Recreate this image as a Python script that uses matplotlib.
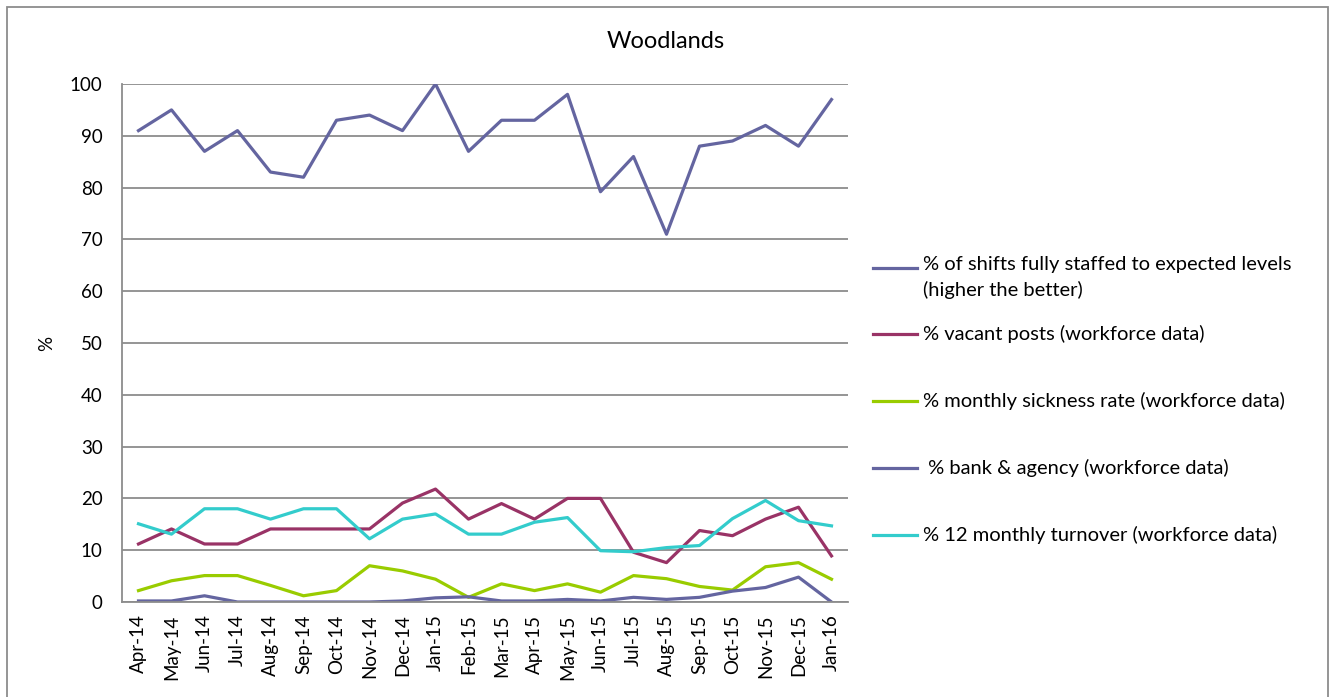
import numpy as np
import matplotlib
matplotlib.use("Agg")
import matplotlib.pyplot as plt
from matplotlib.lines import Line2D
from matplotlib.patches import Rectangle

plt.rcParams['font.family'] = ['Lato', 'DejaVu Sans']

months = ['Apr-14', 'May-14', 'Jun-14', 'Jul-14', 'Aug-14', 'Sep-14', 'Oct-14',
          'Nov-14', 'Dec-14', 'Jan-15', 'Feb-15', 'Mar-15', 'Apr-15', 'May-15',
          'Jun-15', 'Jul-15', 'Aug-15', 'Sep-15', 'Oct-15', 'Nov-15', 'Dec-15', 'Jan-16']

staffed = [91, 95, 87, 91, 83, 82, 93, 94, 91, 100, 87, 93, 93, 98, 79.2, 86, 71, 88, 89, 92, 88, 97]
vacant = [11.2, 14.1, 11.2, 11.2, 14.1, 14.1, 14.1, 14.1, 19.1, 21.8, 16, 19, 16, 20, 20, 9.6, 7.6, 13.8, 12.8, 16, 18.3, 8.9]
sickness = [2.2, 4.1, 5.1, 5.1, 3.2, 1.2, 2.2, 7.0, 6.0, 4.4, 0.9, 3.5, 2.2, 3.5, 1.9, 5.1, 4.5, 3.0, 2.3, 6.8, 7.6, 4.4]
bank = [0.2, 0.2, 1.2, 0, 0, 0, 0, 0, 0.2, 0.8, 1.0, 0.2, 0.2, 0.5, 0.2, 0.9, 0.5, 0.9, 2.1, 2.8, 4.8, 0]
turnover = [15.1, 13.1, 18, 18, 16, 18, 18, 12.2, 16, 17, 13.1, 13.1, 15.4, 16.3, 9.9, 9.7, 10.5, 10.9, 16.1, 19.6, 15.7, 14.7]

labels = ['% of shifts fully staffed to expected levels\n(higher the better)',
          '% vacant posts (workforce data)',
          '% monthly sickness rate (workforce data)',
          ' % bank & agency (workforce data)',
          '% 12 monthly turnover (workforce data)']
colors = ['#6465a0', '#993366', '#99cc00', '#6465a0', '#33cccc']
series = [staffed, vacant, sickness, bank, turnover]

W, H = 1334, 697
fig = plt.figure(figsize=(W / 100, H / 100), dpi=100)
ax = fig.add_axes([122 / W, 1 - 602 / H, (848 - 122) / W, (602 - 84) / H])

x = np.arange(len(months))
for ys, c in zip(series, colors):
    ax.plot(x, ys, color=c, lw=2.3)

ax.set_xlim(-0.5, len(months) - 0.5)
ax.set_ylim(0, 100)
ax.set_yticks(range(0, 101, 10))
ax.set_xticks(x)
ax.set_xticklabels(months, rotation=90)
ax.tick_params(axis='both', length=0, labelsize=13.5)
ax.tick_params(axis='y', pad=14)
ax.tick_params(axis='x', pad=9)
ax.grid(axis='y', color='#8c8c8c', lw=1.3)
ax.set_axisbelow(True)
for s in ['top', 'right']:
    ax.spines[s].set_visible(False)
for s in ['left', 'bottom']:
    ax.spines[s].set_color('#8c8c8c')
    ax.spines[s].set_linewidth(1.3)

fig.text(666 / W, 1 - 42 / H, 'Woodlands', ha='center', va='center', fontsize=17)
fig.text(47 / W, 1 - 343 / H, '%', ha='center', va='center', rotation=90, fontsize=13.5)

# legend, drawn by hand to follow the original spacing
leg_y = [268, 334, 401, 468, 535]
for yy, lab, c in zip(leg_y, labels, colors):
    fig.add_artist(Line2D([873 / W, 917 / W], [1 - yy / H, 1 - yy / H], color=c, lw=2.3))
    if '\n' in lab:
        fig.text(923 / W, 1 - (yy - 12) / H, lab, ha='left', va='top',
                 fontsize=14.5, linespacing=1.55)
    else:
        fig.text(923 / W, 1 - yy / H, lab, ha='left', va='center', fontsize=14.5)

fig.add_artist(Rectangle((7 / W, -0.05), (1328 - 7) / W, 1.05 - 7 / H,
                         transform=fig.transFigure, fill=False, edgecolor='#8c8c8c', lw=1.3))

fig.savefig('out.png', dpi=100)
